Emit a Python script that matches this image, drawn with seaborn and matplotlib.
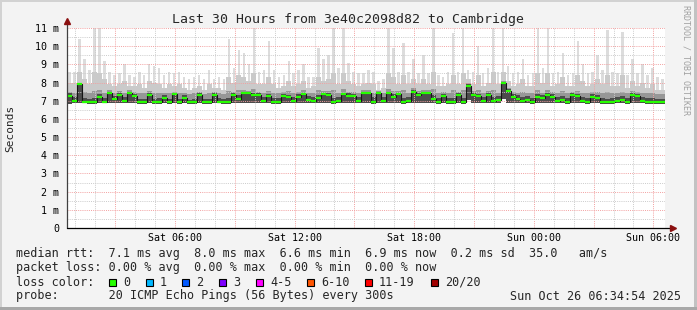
import numpy as np
import matplotlib
matplotlib.use("Agg")
import matplotlib.pyplot as plt
from matplotlib.patches import Rectangle
import seaborn as sns

# ---------------- data (ms), one value per 15-minute bin ----------------
median_ms = [7.28, 7.0, 7.92, 6.95, 6.92, 6.92, 7.22, 6.95, 7.4, 7.1,
             7.3, 7.0, 7.4, 7.25, 6.92, 6.92, 7.3, 6.92, 6.92, 7.15,
             6.92, 7.35, 6.92, 7.15, 6.92, 6.92, 7.3, 6.92, 6.92, 7.3,
             6.95, 6.92, 6.92, 7.3, 7.1, 7.4, 7.4, 7.3, 7.3, 7.0,
             7.25, 6.95, 6.95, 7.25, 7.2, 7.0, 7.2, 7.35, 7.05, 7.0,
             7.15, 7.35, 7.3, 6.95, 7.0, 7.35, 7.25, 7.25, 7.0, 7.4,
             7.4, 6.95, 7.4, 7.0, 7.4, 7.2, 7.35, 6.95, 7.0, 7.5,
             7.3, 7.4, 7.4, 7.1, 6.95, 7.25, 6.95, 6.95, 7.3, 6.95,
             7.8, 7.3, 7.25, 7.0, 7.3, 7.0, 7.05, 8.0, 7.55, 7.2,
             7.1, 7.0, 7.05, 6.95, 7.2, 7.15, 7.3, 7.2, 7.0, 7.05,
             6.95, 7.3, 7.25, 7.0, 6.95, 7.2, 7.15, 6.95, 6.92, 6.95,
             7.0, 7.05, 6.95, 7.3, 7.25, 7.0, 6.95, 6.95, 6.92, 6.92]

smoke_min = [6.80, 6.85, 6.85, 6.85, 6.82, 6.82, 6.85, 6.85, 6.85, 6.85,
             6.85, 6.85, 6.85, 6.85, 6.82, 6.82, 6.85, 6.82, 6.82, 6.85,
             6.82, 6.85, 6.82, 6.85, 6.82, 6.82, 6.85, 6.82, 6.82, 6.85,
             6.85, 6.82, 6.82, 6.85, 6.85, 6.88, 6.88, 6.85, 6.85, 6.85,
             6.85, 6.82, 6.82, 6.85, 6.85, 6.85, 6.85, 6.85, 6.85, 6.85,
             6.85, 6.88, 6.85, 6.82, 6.85, 6.85, 6.85, 6.85, 6.85, 6.88,
             6.88, 6.82, 6.88, 6.85, 6.88, 6.85, 6.85, 6.82, 6.85, 6.88,
             6.85, 6.88, 6.88, 6.85, 6.82, 6.85, 6.82, 6.82, 6.85, 6.82,
             7.05, 6.85, 6.85, 6.85, 6.85, 6.85, 6.85, 7.10, 6.90, 6.85,
             6.85, 6.85, 6.85, 6.82, 6.85, 6.85, 6.85, 6.85, 6.85, 6.85,
             6.82, 6.85, 6.85, 6.85, 6.82, 6.85, 6.85, 6.82, 6.82, 6.82,
             6.85, 6.85, 6.82, 6.85, 6.85, 6.85, 6.82, 6.82, 6.82, 6.82]

smoke_dark = [7.4, 7.2, 8.0, 7.15, 7.1, 7.15, 7.35, 7.15, 7.45, 7.25,
              7.4, 7.2, 7.45, 7.35, 7.1, 7.1, 7.4, 7.1, 7.15, 7.3,
              7.1, 7.45, 7.1, 7.3, 7.05, 7.1, 7.4, 7.1, 7.1, 7.4,
              7.15, 7.1, 7.15, 7.4, 7.3, 7.5, 7.5, 7.4, 7.4, 7.2,
              7.35, 7.15, 7.15, 7.35, 7.3, 7.2, 7.35, 7.45, 7.25, 7.2,
              7.3, 7.45, 7.4, 7.15, 7.2, 7.45, 7.4, 7.35, 7.2, 7.5,
              7.5, 7.2, 7.5, 7.2, 7.5, 7.35, 7.45, 7.15, 7.2, 7.6,
              7.4, 7.5, 7.5, 7.3, 7.15, 7.35, 7.15, 7.15, 7.4, 7.15,
              7.9, 7.4, 7.35, 7.2, 7.4, 7.2, 7.25, 8.05, 7.65, 7.35,
              7.3, 7.2, 7.25, 7.15, 7.35, 7.3, 7.4, 7.35, 7.2, 7.25,
              7.15, 7.4, 7.35, 7.2, 7.15, 7.35, 7.3, 7.15, 7.1, 7.15,
              7.2, 7.25, 7.15, 7.4, 7.35, 7.2, 7.15, 7.15, 7.1, 7.1]

smoke_q3 = [7.5, 7.45, 8.0, 7.5, 7.4, 7.55, 7.6, 7.45, 7.6, 7.45,
            7.55, 7.45, 7.6, 7.5, 7.4, 7.4, 7.55, 7.4, 7.4, 7.45,
            7.4, 7.5, 7.4, 7.45, 7.35, 7.4, 7.5, 7.35, 7.45, 7.5,
            7.4, 7.35, 7.55, 7.5, 7.6, 7.6, 7.55, 7.65, 7.5, 7.45,
            7.55, 7.45, 7.4, 7.5, 7.55, 7.45, 7.5, 7.6, 7.45, 7.45,
            7.6, 7.55, 7.55, 7.6, 7.45, 7.65, 7.5, 7.5, 7.45, 7.6,
            7.6, 7.45, 7.55, 7.45, 7.65, 7.55, 7.55, 7.6, 7.45, 7.7,
            7.55, 7.6, 7.6, 7.65, 7.45, 7.5, 7.45, 7.6, 7.5, 7.6,
            7.95, 7.55, 7.6, 7.45, 7.55, 7.6, 7.45, 8.1, 7.7, 7.5,
            7.45, 7.5, 7.4, 7.4, 7.6, 7.45, 7.6, 7.5, 7.45, 7.55,
            7.4, 7.5, 7.55, 7.45, 7.4, 7.5, 7.5, 7.4, 7.5, 7.4,
            7.4, 7.5, 7.4, 7.55, 7.5, 7.45, 7.4, 7.4, 7.35, 7.35]

smoke_p90 = [8.0, 8.0, 8.6, 8.2, 7.9, 8.6, 8.5, 8.2, 7.9, 7.8,
             7.9, 8.1, 7.8, 7.8, 7.9, 7.7, 8.1, 8.0, 7.9, 7.7,
             7.9, 7.8, 7.9, 7.7, 7.6, 7.7, 7.8, 7.6, 7.9, 7.7,
             7.7, 7.6, 8.3, 8.0, 8.4, 8.3, 8.1, 8.5, 7.9, 7.9,
             8.3, 7.9, 7.7, 7.8, 8.1, 7.8, 7.9, 8.1, 7.7, 7.8,
             8.3, 8.1, 8.2, 8.5, 7.9, 8.5, 8.1, 7.9, 7.8, 7.9,
             8.0, 7.9, 7.6, 7.7, 8.5, 8.3, 7.9, 8.4, 7.9, 8.2,
             7.9, 8.2, 7.9, 8.6, 7.8, 7.8, 7.9, 8.4, 7.9, 8.5,
             8.2, 7.9, 8.4, 7.8, 8.0, 8.6, 7.9, 8.6, 8.1, 7.8,
             7.9, 8.2, 7.8, 7.8, 8.5, 8.0, 8.5, 7.8, 7.9, 8.3,
             7.8, 7.8, 8.4, 8.1, 7.8, 7.9, 8.2, 7.9, 8.4, 7.8,
             7.8, 8.4, 7.7, 8.1, 7.8, 8.0, 7.7, 7.9, 7.6, 7.6]

smoke_max = [8.6, 8.6, 10.4, 9.3, 8.7, 11.0, 11.0, 9.2, 8.6, 8.4,
             8.5, 9.0, 8.4, 8.3, 8.6, 8.4, 9.0, 8.9, 8.8, 8.4,
             8.6, 8.5, 8.6, 8.3, 8.2, 8.3, 8.4, 8.2, 8.7, 8.2,
             8.3, 8.2, 10.4, 8.8, 9.8, 9.6, 9.0, 11.0, 8.6, 8.7,
             10.3, 8.7, 8.3, 8.4, 9.2, 8.5, 8.7, 9.0, 8.3, 8.3,
             9.9, 9.3, 9.5, 11.0, 8.8, 11.0, 9.1, 8.6, 8.5, 8.5,
             8.7, 8.6, 8.1, 8.2, 11.0, 9.9, 8.6, 10.2, 8.6, 9.3,
             8.5, 9.5, 8.5, 11.0, 8.4, 8.3, 8.6, 10.7, 8.6, 11.0,
             8.7, 8.6, 10.0, 8.5, 8.8, 11.0, 8.6, 11.0, 8.9, 8.5,
             8.6, 9.3, 8.4, 8.5, 11.0, 8.8, 11.0, 8.5, 8.6, 9.6,
             8.4, 8.5, 10.3, 9.0, 8.5, 8.6, 9.5, 8.7, 10.9, 8.6,
             8.5, 10.8, 8.4, 9.3, 8.5, 9.0, 8.4, 8.8, 8.3, 8.2]

x_tick_hours = [6, 12, 18, 24, 30]
x_tick_labels = ["Sat 06:00", "Sat 12:00", "Sat 18:00", "Sun 00:00", "Sun 06:00"]
y_tick_values = list(range(0, 12))
y_tick_labels = ["0"] + [f"{v} m" for v in range(1, 12)]

rtt_stats = ["7.1", "8.0", "6.6", "6.9", "0.2", "35.0"]
loss_stats = ["0.00", "0.00", "0.00", "0.00"]
loss_labels = ["0", "1", "2", "3", "4-5", "6-10", "11-19", "20/20"]
loss_colors = ["#26ff00", "#00b8ff", "#0059ff", "#7e00ff", "#ff00ff",
               "#ff5500", "#ff0000", "#a10000"]

END_HOUR = 30 + 34 / 60 + 54 / 3600   # Sun 06:34:54, hours after Sat 00:00
STEP_H = 0.25

# ---------------- figure ----------------
sns.set_style("white")
plt.rcParams["font.family"] = ["DejaVu Sans Mono", "DejaVu Sans"]

W, H = 697, 310
fig = plt.figure(figsize=(W / 100, H / 100), dpi=100, facecolor="#f3f3f3")
ax = fig.add_axes([67 / W, 82 / H, 598 / W, 200 / H])
ax.set_facecolor("white")

n = len(median_ms)
start = END_HOUR - n * STEP_H
edges = start + STEP_H * np.arange(n + 1)
centers = edges[:-1] + STEP_H / 2


def ext(a):
    a = np.asarray(a, dtype=float)
    return np.append(a, a[-1])


lo_arr = np.asarray(smoke_min, dtype=float)
lo = ext(smoke_min)
# outermost smoke: narrow spikes
ax.bar(centers, np.asarray(smoke_max) - lo_arr, bottom=lo_arr, width=STEP_H * 0.5,
       color="#dcdcdc", lw=0, zorder=1)
ax.fill_between(edges, lo, ext(smoke_p90), step="post", color="#cacaca", lw=0, zorder=1.1)
ax.fill_between(edges, lo, ext(smoke_q3), step="post", color="#979797", lw=0, zorder=1.2)
ax.fill_between(edges, lo, ext(smoke_dark), step="post", color="#4c4c4c", lw=0, zorder=1.3)

# grid (drawn over the smoke, like rrdtool)
RED = "#f2a0a0"
GREY = "#cbcbcb"
for h in range(1, 31):
    if start <= h <= END_HOUR:
        ax.axvline(h, color=RED if h % 3 == 0 else GREY, lw=0.7,
                   ls=(0, (1, 1.2)), zorder=2)
for k in range(1, 23):
    v = k * 0.5
    ax.axhline(v, color=RED if k % 2 == 0 else GREY, lw=0.7,
               ls=(0, (1, 1.2)), zorder=2)

# median: dark step connectors + green per-bin segments
sns.lineplot(x=edges, y=ext(median_ms), drawstyle="steps-post", color="#151515",
             lw=0.8, ax=ax, zorder=3, legend=False)
ax.hlines(median_ms, edges[:-1], edges[1:], color=loss_colors[0], lw=1.6, zorder=4)

ax.set_xlim(start, END_HOUR)
ax.set_ylim(0, 11)
ax.set_xticks(x_tick_hours)
ax.set_xticklabels(x_tick_labels)
ax.set_yticks(y_tick_values)
ax.set_yticklabels(y_tick_labels)
ax.set_xlabel("")
ax.set_ylabel("")
ax.tick_params(axis="x", length=0, pad=3.3, labelsize=7.2, colors="#000000")
ax.tick_params(axis="y", length=2.2, width=0.8, pad=3.4, labelsize=7.2,
               color="#777777", labelcolor="#000000")
for s in ax.spines.values():
    s.set_visible(False)

# axes with arrow heads
ax.plot([0, 0], [0, 1.03], transform=ax.transAxes, color="#404040", lw=0.9,
        clip_on=False, zorder=5)
ax.plot([0, 1.012], [0, 0], transform=ax.transAxes, color="#000000", lw=0.9,
        clip_on=False, zorder=5)
ax.plot([0], [1.035], transform=ax.transAxes, marker="^", ms=4.5, color="#8b1010",
        clip_on=False, zorder=6)
ax.plot([1.013], [0], transform=ax.transAxes, marker=">", ms=4.5, color="#8b1010",
        clip_on=False, zorder=6)


def fy(y):
    return 1 - y / H


fig.text(0.5, fy(19), "Last 30 Hours from 3e40c2098d82 to Cambridge",
         ha="center", va="center", fontsize=9.5)
fig.text(10 / W, fy(128), "Seconds", rotation=90, ha="center", va="center",
         fontsize=8)
fig.text(686 / W, fy(60), "RRDTOOL / TOBI OETIKER", rotation=270, ha="center",
         va="center", fontsize=6, color="#a0a0a0")

FS = 8.5
row1 = (f"median rtt:  {rtt_stats[0]} ms avg  {rtt_stats[1]} ms max  "
        f"{rtt_stats[2]} ms min  {rtt_stats[3]} ms now  {rtt_stats[4]} ms sd  "
        f"{rtt_stats[5]}   am/s")
row2 = (f"packet loss: {loss_stats[0]} % avg  {loss_stats[1]} % max  "
        f"{loss_stats[2]} % min  {loss_stats[3]} % now")
fig.text(16 / W, fy(254), row1, ha="left", va="center", fontsize=FS)
fig.text(16 / W, fy(268), row2, ha="left", va="center", fontsize=FS)
fig.text(16 / W, fy(282), "loss color:", ha="left", va="center", fontsize=FS)
fig.text(16 / W, fy(296), "probe:       20 ICMP Echo Pings (56 Bytes) every 300s",
         ha="left", va="center", fontsize=FS)
fig.text(681 / W, fy(296), "Sun Oct 26 06:34:54 2025", ha="right", va="center",
         fontsize=FS)

box_x = [109, 146, 182, 219, 256, 307, 365, 431]
for bx, lab, col in zip(box_x, loss_labels, loss_colors):
    fig.add_artist(Rectangle((bx / W, fy(282 + 3.5)), 7 / W, 7 / H,
                             transform=fig.transFigure, facecolor=col,
                             edgecolor="#000000", lw=0.8))
    fig.text((bx + 14) / W, fy(282), lab, ha="left", va="center", fontsize=FS)

# image frame
fig.add_artist(Rectangle((0, 1 - 2 / H), 1, 2 / H, transform=fig.transFigure,
                         color="#d2d2d2", lw=0))
fig.add_artist(Rectangle((0, 0), 2 / W, 1, transform=fig.transFigure,
                         color="#d2d2d2", lw=0))
fig.add_artist(Rectangle((1 - 3 / W, 0), 3 / W, 1, transform=fig.transFigure,
                         color="#c2c2c2", lw=0))
fig.add_artist(Rectangle((0, 0), 1, 3 / H, transform=fig.transFigure,
                         color="#a8a8a8", lw=0))

fig.savefig("out.png", dpi=100, facecolor=fig.get_facecolor())
